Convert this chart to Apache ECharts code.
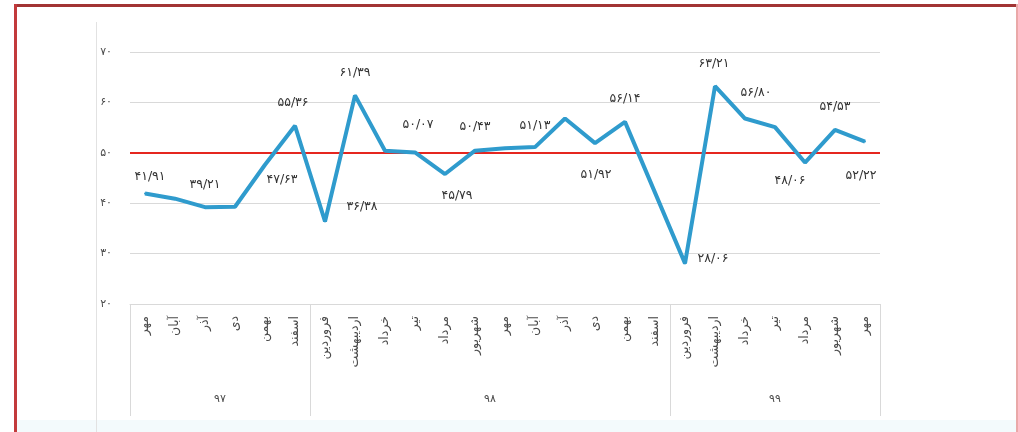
<!DOCTYPE html>
<html>
<head>
<meta charset="utf-8">
<script src="https://cdn.jsdelivr.net/npm/echarts@6/dist/echarts.min.js"></script>
<style>
  html, body { margin: 0; padding: 0; background: #ffffff; }
  #wrap { position: relative; width: 1018px; height: 432px; overflow: hidden; background: #fff; }
  #chart { position: absolute; left: 0; top: 0; width: 1018px; height: 432px; }
  .bTop { position: absolute; left: 14px; top: 4px; width: 1004px; height: 3px; background: #a23434; }
  .bLeft { position: absolute; left: 14px; top: 4px; width: 3px; height: 428px; background: #c23a3c; }
  .bRight { position: absolute; left: 1016px; top: 4px; width: 2px; height: 428px; background: #eaa8a8; }
  .boxLeft { position: absolute; left: 96px; top: 22px; width: 1px; height: 410px; background: #e2e2e2; }
  .bottomBand { position: absolute; left: 17px; top: 420px; width: 999px; height: 12px; background: #f3fafc; }
</style>
</head>
<body>
<div id="wrap">
  <div class="bottomBand"></div>
  <div class="boxLeft"></div>
  <div id="chart"></div>
  <div class="bTop"></div>
  <div class="bLeft"></div>
  <div class="bRight"></div>
</div>
<script>
// ---- data ----
var months = ['مهر','آبان','آذر','دی','بهمن','اسفند',
              'فروردین','اردیبهشت','خرداد','تیر','مرداد','شهریور','مهر','آبان','آذر','دی','بهمن','اسفند',
              'فروردین','اردیبهشت','خرداد','تیر','مرداد','شهریور','مهر'];
var years = ['۹۷','۹۸','۹۹'];
var yearSizes = [6, 12, 7];
var values = [41.91, 40.9, 39.21, 39.3, 47.63, 55.36,
              36.38, 61.39, 50.4, 50.07, 45.79, 50.43, 50.9, 51.13, 56.8, 51.92, 56.14, 42.1,
              28.06, 63.21, 56.80, 55.1, 48.06, 54.53, 52.22];
var labelled = [true, false, true, false, true, true,
                true, true, false, true, true, true, false, true, false, true, true, false,
                true, true, true, false, true, true, true];
var threshold = 50;
var yTicks = [20, 30, 40, 50, 60, 70];

// ---- label placement (offsets from the point, px) ----
var labelOffsets = [[5,-17],null,[0,-22],null,[17,15],[-2,-23],
                    [37,-15],[0,-23],null,[3,-28],[12,22],[0,-24],null,[0,-21],null,[1,32],[0,-23],null,
                    [28,-5],[-1,-22],[11,-26],null,[-15,18],[0,-23],[-4,34]];

var FA = '۰۱۲۳۴۵۶۷۸۹';
function fa(s) { return String(s).replace(/[0-9]/g, function (d) { return FA[+d]; }); }
function faNum(v) { return fa(v.toFixed(2).replace('.', '/')); }

// group axis: half-category slots, boundaries & centres
var total = months.length;
var slots = [];
for (var i = 0; i <= total * 2; i++) slots.push('');
var boundaries = {0: true};
var centres = {};
var acc = 0;
yearSizes.forEach(function (n, gi) {
  centres[acc * 2 + n] = years[gi];
  acc += n;
  boundaries[acc * 2] = true;
});

var seriesData = values.map(function (v, i) {
  var item = { value: v };
  if (labelled[i]) {
    item.label = { show: true, position: 'inside', offset: labelOffsets[i] };
  }
  return item;
});

var FONT = 'DejaVu Sans';
var chart = echarts.init(document.getElementById('chart'), null, { renderer: 'canvas' });
chart.setOption({
  animation: false,
  backgroundColor: 'transparent',
  grid: { left: 130, right: 138, top: 52, bottom: 128 },
  xAxis: [{
    type: 'category',
    data: months,
    boundaryGap: true,
    axisLine: { show: true, lineStyle: { color: '#d9d9d9', width: 1 } },
    axisTick: { show: false },
    axisLabel: { rotate: 90, interval: 0, margin: 12, fontFamily: FONT, fontSize: 12.5, color: '#4a4a4a' }
  }, {
    type: 'category',
    data: slots,
    boundaryGap: false,
    position: 'bottom',
    axisLine: { show: false },
    axisTick: {
      show: true, length: 112, lineStyle: { color: '#d9d9d9', width: 1 },
      interval: function (idx) { return !!boundaries[idx]; }
    },
    axisLabel: {
      show: true, margin: 90, fontFamily: FONT, fontSize: 11, color: '#4a4a4a',
      interval: function (idx) { return centres[idx] !== undefined; },
      formatter: function (v, idx) { return centres[idx] || ''; }
    }
  }],
  yAxis: {
    type: 'value',
    min: yTicks[0], max: yTicks[yTicks.length - 1], interval: 10,
    axisLine: { show: false },
    axisTick: { show: false },
    splitLine: { lineStyle: { color: '#d9d9d9', width: 1 } },
    axisLabel: { margin: 18, fontFamily: FONT, fontSize: 11, color: '#4a4a4a',
                 formatter: function (v) { return fa(v); } }
  },
  series: [{
    type: 'line',
    data: seriesData,
    xAxisIndex: 0,
    symbol: 'circle',
    symbolSize: 2,
    itemStyle: { color: '#2f9bcd' },
    lineStyle: { color: '#2f9bcd', width: 4 },
    z: 3,
    label: {
      show: false,
      fontFamily: FONT, fontSize: 12.5, color: '#333333',
      formatter: function (p) { return faNum(p.value); }
    },
    markLine: {
      silent: true,
      symbol: 'none',
      label: { show: false },
      lineStyle: { color: '#e5261f', width: 2, type: 'solid' },
      data: [{ yAxis: threshold }],
      z: 2
    }
  }]
});
</script>
</body>
</html>
